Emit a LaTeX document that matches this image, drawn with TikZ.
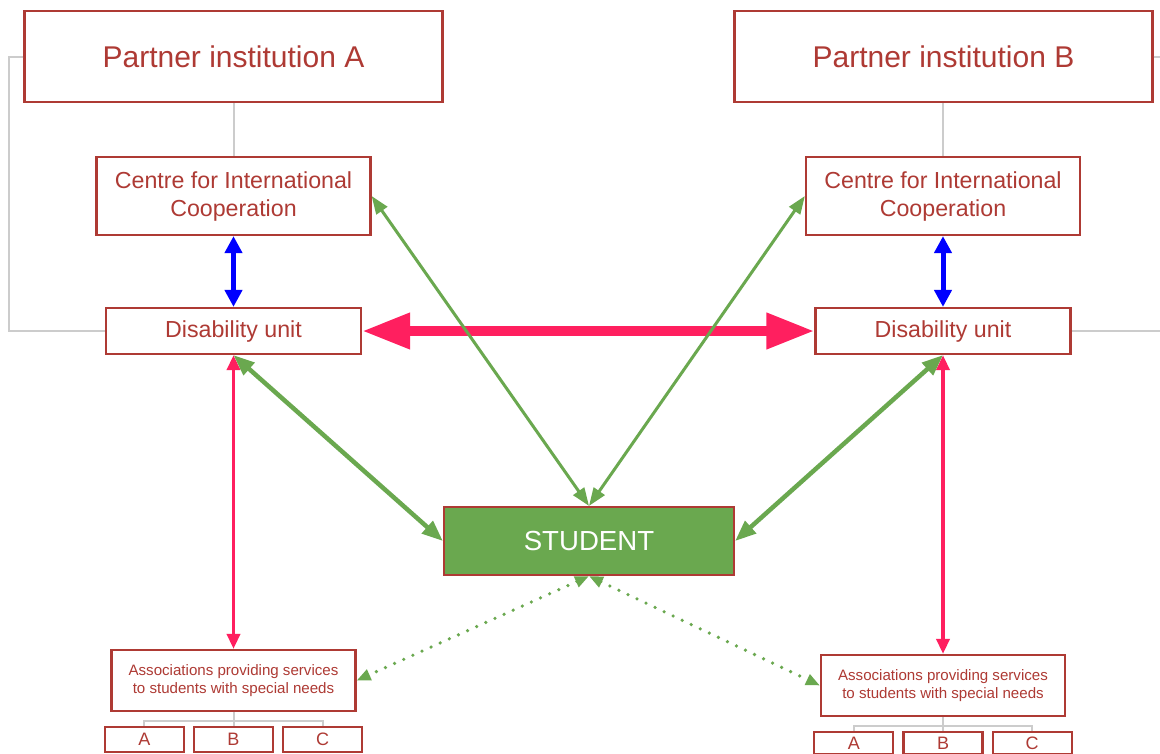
\documentclass[tikz,border=0pt]{standalone}
\usepackage{fontspec}
\setmainfont{Liberation Sans}
\usepackage{xcolor}
\usepackage{tikz}
\usetikzlibrary{arrows.meta,positioning}
\definecolor{UnitRed}{HTML}{AE3A34}
\definecolor{StudentGreen}{HTML}{6AA84F}
\definecolor{LinkPink}{HTML}{FF1F5F}
\definecolor{LinkBlue}{HTML}{0000FF}
\definecolor{TreeGray}{HTML}{CCCCCC}

\begin{document}
\begin{tikzpicture}[
  x=1pt, y=-1pt,
  box/.style={draw=UnitRed,line width=2.2pt,fill=white,text=UnitRed,inner sep=0pt,align=center},
  partner/.style={box,minimum width=418pt,minimum height=91pt,font=\fontsize{30}{34}\selectfont},
  unit/.style={box,minimum width=255pt,font=\fontsize{23.2}{28}\selectfont},
  assoc/.style={box,minimum width=244pt,minimum height=61pt,font=\fontsize{15.1}{17.5}\selectfont},
  member/.style={box,minimum width=79pt,minimum height=25pt,font=\fontsize{18}{18}\selectfont},
  student/.style={box,fill=StudentGreen,text=white,minimum width=290pt,minimum height=68pt,font=\fontsize{27.6}{30}\selectfont},
  link/.style={draw=TreeGray,line width=2pt},
  bluearrow/.style={draw=LinkBlue,line width=5pt,{Triangle[length=17pt,width=17pt]}-{Triangle[length=17pt,width=17pt]}},
  bigarrow/.style={draw=LinkPink,line width=10pt,{Triangle[length=48pt,width=34pt]}-{Triangle[length=48pt,width=34pt]}},
  pinkarrow/.style={draw=LinkPink,line width=3.5pt,{Triangle[length=15pt,width=13pt]}-{Triangle[length=15pt,width=13pt]}},
  greenarrow/.style={draw=StudentGreen,line width=3pt,{Triangle[length=18pt,width=13pt]}-{Triangle[length=18pt,width=13pt]}},
  thickarrow/.style={draw=StudentGreen,line width=4.5pt,{Triangle[length=21pt,width=16pt]}-{Triangle[length=21pt,width=16pt]}},
  dotarrow/.style={draw=StudentGreen,line width=3.6pt,line cap=round,dash pattern=on 0pt off 10pt,{Triangle[length=14pt,width=11pt]}-{Triangle[length=14pt,width=11pt]}}
]
  \useasboundingbox[fill=white] (0,0) rectangle (1160,753);

  % institution A
  \node[partner] (partA) at (233.5,56.5) {Partner institution A};
  \node[unit,minimum width=274pt,minimum height=78pt] (cicA) at (233.5,196) {Centre for International\\Cooperation};
  \node[unit,minimum height=46pt] (duA) at (233.5,331) {Disability unit};
  \node[assoc] (assocA) at (233.5,680.5) {Associations providing services\\to students with special needs};
  \node[member, below=14pt of assocA] (memAB) {B};
  \node[member, left=8pt of memAB] (memAA) {A};
  \node[member, right=8pt of memAB] (memAC) {C};

  % institution B
  \node[partner] (partB) at (943.5,56.5) {Partner institution B};
  \node[unit,minimum width=274pt,minimum height=78pt] (cicB) at (943,196) {Centre for International\\Cooperation};
  \node[unit,minimum height=46pt] (duB) at (943,331) {Disability unit};
  \node[assoc] (assocB) at (943,685.5) {Associations providing services\\to students with special needs};
  \node[member, minimum height=22pt, below=14pt of assocB] (memBB) {B};
  \node[member, minimum height=22pt, left=8pt of memBB] (memBA) {A};
  \node[member, minimum height=22pt, right=8pt of memBB] (memBC) {C};

  \node[student] (student) at (589,541) {STUDENT};

  % gray structure lines
  \draw[link] (partA.south) -- (cicA.north);
  \draw[link] (partB.south -| cicB.north) -- (cicB.north);
  \draw[link] (partA.west) -- ++(-14,0) |- (duA.west);
  \draw[link] (partB.east) -- ++(20,0) |- (duB.east);
  \draw[link] (assocA.south) -- (memAB.north);
  \draw[link] (assocA.south) -- ++(0,9) -| (memAA.north);
  \draw[link] (assocA.south) -- ++(0,9) -| (memAC.north);
  \draw[link] (assocB.south) -- (memBB.north);
  \draw[link] (assocB.south) -- ++(0,9) -| (memBA.north);
  \draw[link] (assocB.south) -- ++(0,9) -| (memBC.north);

  % cooperation links
  \draw[bluearrow] (cicA) -- (duA);
  \draw[bluearrow] (cicB) -- (duB);
  \draw[bigarrow] (duA) -- (duB);
  \draw[pinkarrow] (duA) -- (assocA);
  \draw[pinkarrow] (duB) -- (assocB);
  \draw[greenarrow] (cicA.east) -- (student.north);
  \draw[greenarrow] (cicB.west) -- (student.north);
  \draw[thickarrow] (duA.south) -- (student.west);
  \draw[thickarrow] (duB.south) -- (student.east);
  \draw[dotarrow] (student.south) -- (assocA.east);
  \draw[dotarrow] (student.south) -- (assocB.west);
\end{tikzpicture}
\end{document}
